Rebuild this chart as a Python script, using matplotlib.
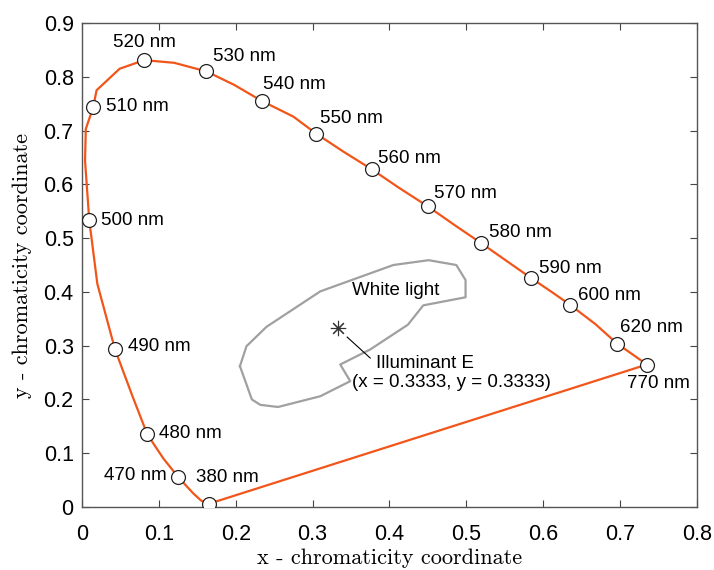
import numpy as np
import matplotlib
matplotlib.use('Agg')
import matplotlib.pyplot as plt

# spectral locus, 380 nm first, then 470 -> 770 nm
locus_x = [0.165, 0.155, 0.145, 0.125, 0.106, 0.085, 0.066, 0.043, 0.020,
           0.0095, 0.004, 0.005, 0.0147, 0.019, 0.049, 0.081, 0.120, 0.162,
           0.198, 0.234, 0.275, 0.305, 0.341, 0.377, 0.413, 0.450, 0.485,
           0.519, 0.552, 0.584, 0.611, 0.635, 0.668, 0.696, 0.735]
locus_y = [0.006, 0.012, 0.025, 0.056, 0.090, 0.135, 0.205, 0.293, 0.415,
           0.533, 0.644, 0.703, 0.744, 0.775, 0.815, 0.831, 0.826, 0.810,
           0.785, 0.755, 0.726, 0.694, 0.660, 0.628, 0.593, 0.559, 0.524,
           0.491, 0.458, 0.426, 0.400, 0.376, 0.340, 0.304, 0.265]

# labelled wavelengths
wl_names = ['380 nm', '470 nm', '480 nm', '490 nm', '500 nm', '510 nm',
            '520 nm', '530 nm', '540 nm', '550 nm', '560 nm', '570 nm',
            '580 nm', '590 nm', '600 nm', '620 nm', '770 nm']
wl_x = [0.165, 0.125, 0.085, 0.043, 0.0095, 0.0147, 0.081, 0.162, 0.234,
        0.305, 0.377, 0.450, 0.519, 0.584, 0.635, 0.696, 0.735]
wl_y = [0.006, 0.056, 0.135, 0.293, 0.533, 0.744, 0.831, 0.810, 0.755,
        0.694, 0.628, 0.559, 0.491, 0.426, 0.376, 0.304, 0.265]

# white light region
white_x = [0.2055, 0.214, 0.240, 0.310, 0.405, 0.451, 0.487, 0.499, 0.499,
           0.444, 0.424, 0.375, 0.336, 0.349, 0.310, 0.255, 0.232, 0.221,
           0.2055]
white_y = [0.262, 0.299, 0.335, 0.401, 0.450, 0.459, 0.450, 0.422, 0.390,
           0.375, 0.339, 0.293, 0.265, 0.234, 0.206, 0.186, 0.190, 0.200,
           0.262]

illum_x = 0.3333
illum_y = 0.3333

xticks = [0, 0.1, 0.2, 0.3, 0.4, 0.5, 0.6, 0.7, 0.8]
yticks = [0, 0.1, 0.2, 0.3, 0.4, 0.5, 0.6, 0.7, 0.8, 0.9]

# label placement (pixel offsets from marker, alignment)
offsets = {
    '380 nm': (19, 26, 'center'), '470 nm': (-11, 1, 'right'),
    '480 nm': (12, 1, 'left'), '490 nm': (13, 3, 'left'),
    '500 nm': (12, 0, 'left'), '510 nm': (13, 0, 'left'),
    '520 nm': (0, 18, 'center'), '530 nm': (7, 15, 'left'),
    '540 nm': (1, 17, 'left'), '550 nm': (4, 15, 'left'),
    '560 nm': (6, 11, 'left'), '570 nm': (6, 13, 'left'),
    '580 nm': (8, 10, 'left'), '590 nm': (8, 9, 'left'),
    '600 nm': (8, 9, 'left'), '620 nm': (3, 16, 'left'),
    '770 nm': (11, -19, 'center'),
}

orange = '#F25519'
sans = 'Liberation Sans'
serif = 'cmr10'

fig = plt.figure(figsize=(7.14, 5.7), dpi=100)
ax = fig.add_axes([0.1148, 0.1105, 0.8613, 0.8491])

ax.plot(white_x, white_y, color='#A0A0A0', lw=1.6, zorder=2)
ax.plot(locus_x + [locus_x[0]], locus_y + [locus_y[0]], color=orange,
        lw=1.6, zorder=3)
ax.plot(wl_x, wl_y, 'o', ms=10, mfc='white', mec='#222222', mew=0.9,
        zorder=4)

for name, x, y in zip(wl_names, wl_x, wl_y):
    dx, dy, ha = offsets[name]
    ax.annotate(name, (x, y), xytext=(dx, dy), textcoords='offset pixels',
                ha=ha, va='center', fontsize=13.5, family=sans)

ax.plot(illum_x, illum_y, marker=(8, 2, 0), ms=11, color='#333333',
        mew=0.8, zorder=4)
ax.plot([0.345, 0.375], [0.316, 0.277], color='black', lw=0.8)
ax.text(0.383, 0.267, 'Illuminant E', fontsize=13.5, family=sans,
        va='center', ha='left')
ax.text(0.351, 0.231, '(x = 0.3333, y = 0.3333)', fontsize=13.5,
        family=sans, va='center', ha='left')
ax.text(0.351, 0.402, 'White light', fontsize=13.5, family=sans,
        va='center', ha='left')

ax.set_xlim(0, 0.8)
ax.set_ylim(0, 0.9)
ax.set_xticks(xticks)
ax.set_yticks(yticks)
ax.set_xticklabels(['%g' % t for t in xticks], family=sans, fontsize=15.5)
ax.set_yticklabels(['%g' % t for t in yticks], family=sans, fontsize=15.5)
ax.tick_params(direction='in', top=True, right=True, length=5,
               width=0.8, color='#444444')
ax.tick_params(axis='x', pad=12)
ax.tick_params(axis='y', pad=6)
for s in ax.spines.values():
    s.set_color('#555555')
    s.set_linewidth(1.0)

ax.set_xlabel('x - chromaticity coordinate', family=serif, fontsize=16,
              labelpad=3)
ax.set_ylabel('y - chromaticity coordinate', family=serif, fontsize=16,
              labelpad=8)

fig.savefig('out.png', dpi=100)
